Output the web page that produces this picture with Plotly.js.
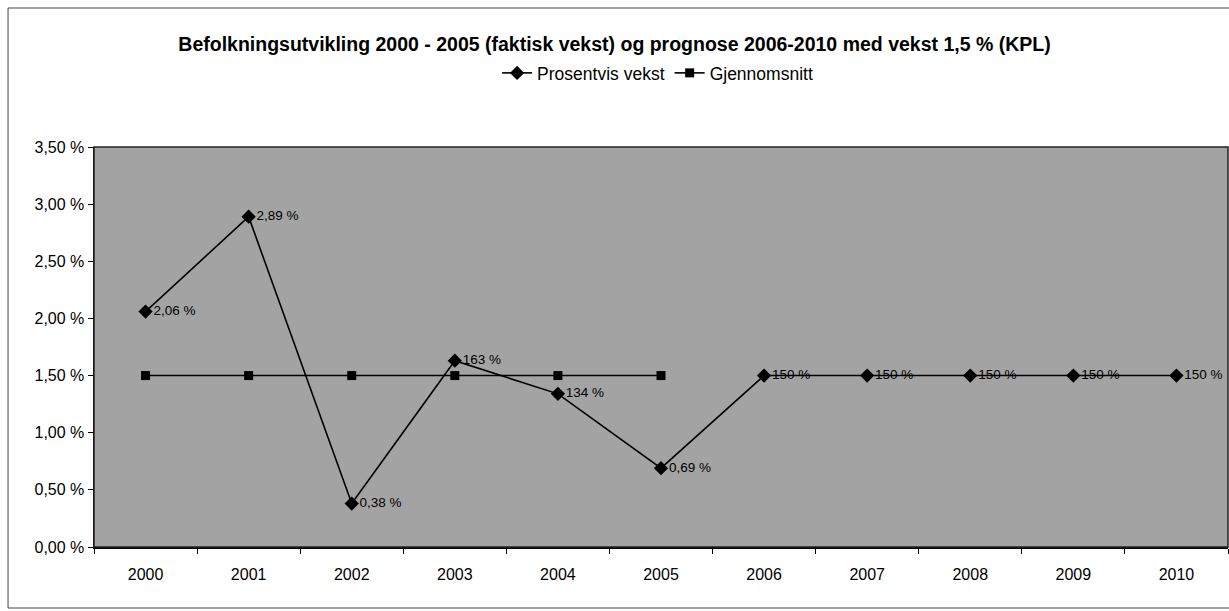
<!DOCTYPE html>
<html><head><meta charset="utf-8">
<script src="https://cdn.plot.ly/plotly-3.0.1.min.js"></script>
<style>body{margin:0;background:#fff}#c{width:1229px;height:611px}</style>
</head><body><div id="c"></div>
<script>
const years = ['2000','2001','2002','2003','2004','2005','2006','2007','2008','2009','2010'];
const growth = [2.06, 2.89, 0.38, 1.63, 1.34, 0.69, 1.50, 1.50, 1.50, 1.50, 1.50];
const growthLabels = ['2,06 %','2,89 %','0,38 %','163 %','134 %','0,69 %','150 %','150 %','150 %','150 %','150 %'];
const avgYears = ['2000','2001','2002','2003','2004','2005'];
const average = [1.5, 1.5, 1.5, 1.5, 1.5, 1.5];
const yTicks = [0, 0.5, 1, 1.5, 2, 2.5, 3, 3.5];
const yTickText = yTicks.map(v => v.toFixed(2).replace('.', ',') + ' %');

const font = "'Liberation Sans', Arial, sans-serif";
const traces = [
  {x: years, y: growth, name: 'Prosentvis vekst', type: 'scatter', mode: 'lines+markers+text',
   text: growthLabels, textposition: 'middle right', textfont: {family: font, size: 13.5, color: '#000'},
   line: {color: '#000', width: 1.6}, marker: {symbol: 'diamond', size: 11, color: '#000'}},
  {x: avgYears, y: average, name: 'Gjennomsnitt', type: 'scatter', mode: 'lines+markers',
   line: {color: '#000', width: 1.6}, marker: {symbol: 'square', size: 9, color: '#000'}}
];
const layout = {
  width: 1229, height: 611,
  margin: {l: 94, r: 1, t: 147, b: 64},
  paper_bgcolor: '#fff', plot_bgcolor: '#a3a3a3',
  font: {family: font, size: 15, color: '#000'},
  separators: ',.',
  title: {text: '<b>Befolkningsutvikling 2000 - 2005 (faktisk vekst) og prognose 2006-2010 med vekst 1,5 % (KPL)</b>',
          font: {family: font, size: 19.5, color: '#000'}, x: 0.5, xanchor: 'center', y: 0.927, yanchor: 'middle'},
  showlegend: true,
  legend: {orientation: 'h', x: 0.497, xanchor: 'center', y: 1.185, yanchor: 'middle',
           font: {family: font, size: 17.5, color: '#000'}, bgcolor: 'rgba(0,0,0,0)', itemwidth: 30},
  xaxis: {type: 'category', range: [-0.5, 10.5], tickson: 'boundaries', ticks: 'outside', ticklen: 5,
          tickcolor: '#000', showgrid: false, showline: true, linecolor: '#000', linewidth: 1.5,
          tickfont: {family: font, size: 16}, zeroline: false, ticklabelstandoff: 12},
  yaxis: {range: [0, 3.5], tickmode: 'array', tickvals: yTicks, ticktext: yTickText, ticks: 'outside', ticklen: 5,
          tickcolor: '#000', showgrid: false, showline: true, linecolor: '#000', linewidth: 1.5,
          tickfont: {family: font, size: 16}, zeroline: false},
  shapes: [
    {type: 'rect', xref: 'paper', yref: 'paper', x0: 0, x1: 1, y0: 0, y1: 1, line: {color: '#222', width: 1.5}},
    {type: 'rect', xref: 'paper', yref: 'paper', x0: -0.0758, x1: 1.02, y0: -0.1525, y1: 1.3475,
     line: {color: '#444', width: 1}, layer: 'below'}
  ]
};
Plotly.newPlot('c', traces, layout, {displayModeBar: false, staticPlot: true});
</script></body></html>
